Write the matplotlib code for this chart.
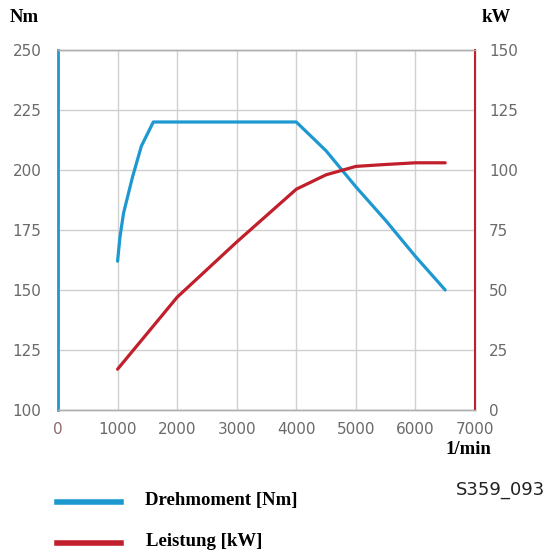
import matplotlib.pyplot as plt
from matplotlib.lines import Line2D

# Drehmoment (Nm) ueber Drehzahl
rpm_torque = [1000, 1040, 1100, 1250, 1400, 1600, 4000, 4500, 5000, 5500, 6000, 6500]
torque_nm = [162, 172, 182, 197, 210, 220, 220, 208, 193, 179, 164, 150]

# Leistung (kW) ueber Drehzahl
rpm_power = [1000, 2000, 3000, 4000, 4500, 5000, 5500, 6000, 6500]
power_kw = [17, 47, 70, 92, 98, 101.5, 102.3, 103, 103]

x_ticks = [0, 1000, 2000, 3000, 4000, 5000, 6000, 7000]
nm_ticks = [100, 125, 150, 175, 200, 225, 250]
kw_ticks = [0, 25, 50, 75, 100, 125, 150]

blue = '#1d98d0'
red = '#c01f2b'
grey_txt = '#6a6a6a'
grid_col = '#d0d0d0'

W, H = 547, 553
fig = plt.figure(figsize=(W / 100, H / 100), dpi=100)
ax = fig.add_axes([58 / W, 1 - 410 / H, (475 - 58) / W, 360 / H])
ax2 = ax.twinx()

ax.plot(rpm_torque, torque_nm, color=blue, lw=2.3, solid_capstyle='round', zorder=3)
ax2.plot(rpm_power, power_kw, color=red, lw=2.3, solid_capstyle='round', zorder=3)

ax.set_xlim(0, 6950)
ax.set_ylim(100, 250)
ax2.set_ylim(0, 150)
ax.set_xticks(x_ticks)
ax.set_yticks(nm_ticks)
ax2.set_yticks(kw_ticks)

ax.grid(True, color=grid_col, lw=1)
ax.set_axisbelow(True)

for a in (ax, ax2):
    a.tick_params(length=0, labelsize=11, colors=grey_txt)
    for s in a.spines.values():
        s.set_color('#b0b0b0')
        s.set_linewidth(1)
ax2.spines['left'].set_visible(False)
ax.spines['left'].set_color(blue)
ax.spines['left'].set_linewidth(2)
ax2.spines['right'].set_color(red)
ax2.spines['right'].set_linewidth(1.5)
ax.tick_params(axis='y', pad=12)
ax2.tick_params(axis='y', pad=10)
ax.tick_params(axis='x', pad=9)
ax.get_xticklabels()[0].set_color('#8a6a6a')

serif = dict(family='Liberation Serif', fontweight='bold', color='black')
fig.text(10 / W, 1 - 18 / H, 'Nm', fontsize=13.5, va='center', ha='left', **serif)
fig.text(482 / W, 1 - 18 / H, 'kW', fontsize=13.5, va='center', ha='left', **serif)
fig.text(491 / W, 1 - 450 / H, '1/min', fontsize=13.5, va='center', ha='right', **serif)

fig.add_artist(Line2D([57 / W, 121 / W], [1 - 502 / H] * 2, color=blue, lw=4,
                      transform=fig.transFigure))
fig.add_artist(Line2D([57 / W, 121 / W], [1 - 543 / H] * 2, color=red, lw=4,
                      transform=fig.transFigure))
fig.text(145 / W, 1 - 500 / H, 'Drehmoment [Nm]', fontsize=13.5, va='center', ha='left', **serif)
fig.text(146 / W, 1 - 542 / H, 'Leistung [kW]', fontsize=13.5, va='center', ha='left', **serif)
fig.text(545 / W, 1 - 490 / H, 'S359_093', fontsize=13, va='center', ha='right',
         family='DejaVu Sans', color='#222222')

fig.savefig('out.png', dpi=100)
